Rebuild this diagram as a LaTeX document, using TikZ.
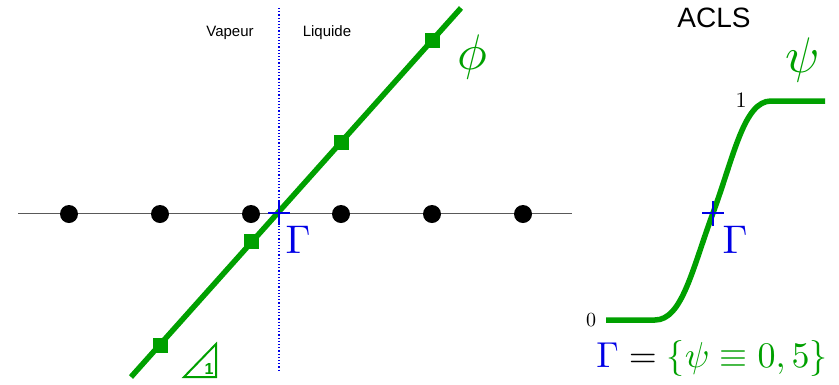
\documentclass[tikz,border=0pt]{standalone}
\usepackage{fontspec}
\setsansfont{Liberation Sans}
\definecolor{gr}{RGB}{0,160,0}
\definecolor{bl}{RGB}{0,0,230}
\begin{document}
\begin{tikzpicture}[x=1pt,y=-1pt,
  dot/.style={circle,fill=black,inner sep=0pt,minimum size=18},
  sq/.style={rectangle,fill=gr,inner sep=0pt,minimum size=15},
  lbl/.style={font=\sffamily\fontsize{15}{15}\selectfont,inner sep=0pt},
  big/.style={inner sep=0pt},
  crossln/.style={bl,line width=2pt}]
\useasboundingbox (0,0) rectangle (839,384);
% axis
\coordinate (axL) at (18,213);
\coordinate (axR) at (572,213);
\draw[gray!70!black,line width=0.8pt] (axL) -- (axR);
\foreach \i/\x in {1/69,2/160,3/251,4/341,5/432,6/523}
  \node[dot] (d\i) at (\x,214) {};
% interface dotted
\coordinate (vT) at (279,8);
\coordinate (vB) at (279,372);
\draw[bl,dotted,line width=1.2pt] (vT) -- (vB);
\node[lbl] (vap) at (230,33) {Vapeur};
\node[lbl] (liq) at (327,33) {Liquide};
% phi line
\coordinate (pA) at (131,377);
\coordinate (pB) at (461,8);
\draw[gr,line width=5.5pt] (pA) -- (pB);
\foreach \i/\x/\y in {1/160/345,2/251/241,3/341/142,4/432/40}
  \node[sq] (s\i) at (\x,\y) {};
% cross at Gamma
\coordinate (g1) at (279,213);
\draw[crossln] ([xshift=-11pt]g1) -- ([xshift=11pt]g1);
\draw[crossln] ([yshift=-12pt]g1) -- ([yshift=12pt]g1);
\node[big,text=bl,scale=4] (G1) at (298,240) {$\Gamma$};
\node[big,text=gr,scale=5] (phi) at (472,57) {$\phi$};
% slope triangle
\coordinate (t1) at (184,377);
\coordinate (t2) at (216,344);
\coordinate (t3) at (216,377);
\draw[gr,line width=2pt,line join=miter] (t1) -- (t2) -- (t3) -- cycle;
\node[big,text=gr,font=\sffamily\bfseries\fontsize{16}{16}\selectfont] (one) at (209,369) {1};
% right panel
\node[big,font=\sffamily\fontsize{28}{28}\selectfont] (acls) at (714,18) {ACLS};
\node[big,text=gr,scale=5] (psi) at (803,60) {$\psi$};
\node[big,scale=2.2] (l1) at (741,100) {$1$};
\node[big,scale=2] (l0) at (591,320) {$0$};
\coordinate (c0) at (606,320);
\coordinate (c1) at (655,320);
\coordinate (cm) at (713,213);
\coordinate (c2) at (771,101);
\coordinate (c3) at (825,101);
\draw[gr,line width=5.5pt] (c0) -- (c1) .. controls (682,320) and (692,270) .. (cm) .. controls (734,156) and (744,101) .. (c2) -- (c3);
\draw[crossln] ([xshift=-11pt]cm) -- ([xshift=11pt]cm);
\draw[crossln] ([yshift=-13pt]cm) -- ([yshift=12pt]cm);
\node[big,text=bl,scale=4] (G2) at (735,240) {$\Gamma$};
\node[big,scale=3.6] (eq) at (712,358) {$\color{bl}\Gamma\color{black} = \color{gr}\{\psi\equiv 0,5\}$};
\end{tikzpicture}
\end{document}
